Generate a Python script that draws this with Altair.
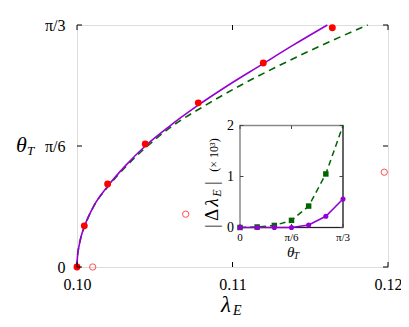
import altair as alt
import pandas as pd

# ---------------- data (theta_T in degrees, lambda_E) ----------------
curve_theta = [0, 1, 2, 3, 5, 7.5, 10, 15, 20, 25, 30, 35, 40, 45, 50, 55, 60]
purple_lam = [0.10000, 0.10001, 0.10002, 0.10004, 0.10012, 0.10026, 0.10047, 0.10106,
              0.10197, 0.10309, 0.10439, 0.10598, 0.10775, 0.10970, 0.11180, 0.11390, 0.11610]
green_lam = [0.10000, 0.10001, 0.10002, 0.10004, 0.10012, 0.10026, 0.10048, 0.10107,
             0.10201, 0.10317, 0.10453, 0.10615, 0.10822, 0.11050, 0.11303, 0.11575, 0.11870]

red_theta = [0, 10.2, 20.6, 30.5, 40.7, 50.6, 59.3]
red_lam = [0.1000, 0.10047, 0.10197, 0.10439, 0.1078, 0.11198, 0.11642]

open_theta = [0, 13.1, 23.5]
open_lam = [0.10101, 0.10699, 0.11976]

# inset: |Δλ_E| (×10^3) vs theta_T
inset_theta = [0, 10, 20, 30, 40, 50, 60]
inset_purple = [0, 0, 0, 0, 0.05, 0.22, 0.56]
inset_green = [0, 0.01, 0.04, 0.14, 0.42, 1.05, 2.08]

x_ticks = [0.10, 0.11, 0.12]
y_ticks = [0, 30, 60]
y_tick_labels = ["0", "π/6", "π/3"]
inset_x_ticks = [0, 30, 60]
inset_x_labels = ["0", "π/6", "π/3"]
inset_y_ticks = [0, 1, 2]
inset_y_labels = ["0", "1", "2"]

W, H = 311, 242
SERIF = "Liberation Serif"
PURPLE = "#9400d3"
GREEN = "#006400"

curves = pd.DataFrame({"theta": curve_theta, "purple": purple_lam, "green": green_lam})
red = pd.DataFrame({"theta": red_theta, "lam": red_lam})
opn = pd.DataFrame({"theta": open_theta, "lam": open_lam})
ins = pd.DataFrame({"theta": inset_theta, "p": inset_purple, "g": inset_green})

xs = alt.Scale(domain=[0.10, 0.12], nice=False)
ys = alt.Scale(domain=[0, 60], nice=False)
x_axis = alt.Axis(values=x_ticks, format=".2f", labelFont=SERIF, labelFontSize=16,
                  labelColor="black", ticks=False, tickSize=0, domain=False, grid=False,
                  labelPadding=9, labelFlush=False, labelOverlap=False, title=None)
label_expr = " : ".join(
    [f"datum.value == {v} ? '{l}'" for v, l in zip(y_ticks[:-1], y_tick_labels[:-1])]
) + f" : '{y_tick_labels[-1]}'"
y_axis = alt.Axis(values=y_ticks, labelExpr=label_expr, labelFont=SERIF, labelFontSize=16,
                  labelColor="black", ticks=False, tickSize=0, domain=False, grid=False,
                  labelPadding=12, labelFlush=False, labelOverlap=False, title=None)


def X(field):
    return alt.X(field, type="quantitative", scale=xs, axis=x_axis)


def Y(field):
    return alt.Y(field, type="quantitative", scale=ys, axis=y_axis)


green_main = alt.Chart(curves).mark_line(
    color=GREEN, strokeWidth=1.6, strokeDash=[7, 5], interpolate="monotone"
).encode(x=X("green"), y=Y("theta"), order="theta:Q")

purple_main = alt.Chart(curves).mark_line(
    color=PURPLE, strokeWidth=1.6, interpolate="monotone"
).encode(x=X("purple"), y=Y("theta"), order="theta:Q")

red_pts = alt.Chart(red).mark_circle(color="red", size=48, opacity=1).encode(
    x=X("lam"), y=Y("theta"))

open_pts = alt.Chart(opn).mark_point(
    shape="circle", filled=False, color="#ff5050", strokeWidth=1, size=40, opacity=1
).encode(x=X("lam"), y=Y("theta"))

xt = pd.DataFrame({"v": x_ticks})
yt = pd.DataFrame({"v": y_ticks})
xtick_b = alt.Chart(xt).mark_rule(color="black").encode(
    x=X("v"), y=alt.value(H), y2=alt.value(H - 5))
xtick_t = alt.Chart(xt).mark_rule(color="black").encode(
    x=X("v"), y=alt.value(0), y2=alt.value(5))
ytick_l = alt.Chart(yt).mark_rule(color="black").encode(
    y=Y("v"), x=alt.value(0), x2=alt.value(5))
ytick_r = alt.Chart(yt).mark_rule(color="black").encode(
    y=Y("v"), x=alt.value(W), x2=alt.value(W - 5))

one = pd.DataFrame({"a": [0]})


def txt(s, x, y, size, italic=False, angle=0, align="left", baseline="alphabetic"):
    kw = dict(text=s, font=SERIF, fontSize=size, color="black", align=align,
              baseline=baseline)
    if italic:
        kw["fontStyle"] = "italic"
    if angle:
        kw["angle"] = angle
    return alt.Chart(one).mark_text(**kw).encode(x=alt.value(x), y=alt.value(y))


titles = [
    txt("θ", -61, 127, 22, italic=True),
    txt("T", -50, 130, 13, italic=True),
    txt("λ", 144, 287, 23, italic=True),
    txt("E", 156, 290, 14, italic=True),
    # inset titles
    txt("θ", 210, 231.5, 15, italic=True),
    txt("T", 216.5, 234, 10, italic=True),
    txt("|", 141, 201, 19, angle=270, align="center"),
    txt("Δ", 141, 190, 19, angle=270, align="center"),
    txt("λ", 141, 177.5, 19, italic=True, angle=270, align="center"),
    txt("E", 144, 168, 12, italic=True, angle=270, align="center"),
    txt("|", 141, 158, 19, angle=270, align="center"),
    txt("(× 10³)", 140.5, 130, 12, angle=270, align="center"),
]

main = alt.layer(green_main, purple_main, red_pts, open_pts,
                 xtick_b, xtick_t, ytick_l, ytick_r, *titles)

# ---------------- inset ----------------
ixs = alt.Scale(domain=[0, 60], range=[163, 266], nice=False)
iys = alt.Scale(domain=[0, 2], range=[202.5, 100.5], nice=False, clamp=True)


def IX(field):
    return alt.X(field, type="quantitative", scale=ixs, axis=None)


def IY(field):
    return alt.Y(field, type="quantitative", scale=iys, axis=None)


box = pd.DataFrame({"x0": [inset_theta[0]], "x1": [inset_theta[-1]],
                    "y0": [inset_y_ticks[0]], "y1": [inset_y_ticks[-1]]})
bg = alt.Chart(box).mark_rect(fill="white", stroke="#8a8a8a", strokeWidth=1.5).encode(
    x=IX("x0"), x2="x1", y=IY("y0"), y2="y1")
b_bottom = alt.Chart(box).mark_rule(color="#222222", strokeWidth=1).encode(
    x=IX("x0"), x2="x1", y=IY("y0"))
b_right = alt.Chart(box).mark_rule(color="#222222", strokeWidth=1).encode(
    x=IX("x1"), y=IY("y0"), y2="y1")

ixt = pd.DataFrame({"v": inset_x_ticks, "l": inset_x_labels})
iyt = pd.DataFrame({"v": inset_y_ticks, "l": inset_y_labels})
itick_b = alt.Chart(ixt).mark_rule(color="#444444").encode(
    x=IX("v"), y=alt.value(202.5), y2=alt.value(199))
itick_t = alt.Chart(ixt).mark_rule(color="#444444").encode(
    x=IX("v"), y=alt.value(100.5), y2=alt.value(104))
itick_l = alt.Chart(iyt).mark_rule(color="#444444").encode(
    y=IY("v"), x=alt.value(163), x2=alt.value(166.5))
itick_r = alt.Chart(iyt).mark_rule(color="#444444").encode(
    y=IY("v"), x=alt.value(266), x2=alt.value(262.5))
ixlab = alt.Chart(ixt).mark_text(font=SERIF, fontSize=11, color="black",
                                 baseline="middle", align="center").encode(
    x=IX("v"), y=alt.value(213), text="l:N")
iylab = alt.Chart(iyt).mark_text(font=SERIF, fontSize=14, color="black",
                                 baseline="middle", align="right").encode(
    y=IY("v"), x=alt.value(157), text="l:N")

ig_line = alt.Chart(ins).mark_line(color=GREEN, strokeWidth=1.5, strokeDash=[6, 4]).encode(
    x=IX("theta"), y=IY("g"))
ig_pts = alt.Chart(ins).transform_filter(alt.datum.g <= 2).mark_square(
    color=GREEN, size=30, opacity=1).encode(x=IX("theta"), y=IY("g"))
ip_line = alt.Chart(ins).mark_line(color=PURPLE, strokeWidth=1.5).encode(
    x=IX("theta"), y=IY("p"))
ip_pts = alt.Chart(ins).mark_circle(color=PURPLE, size=26, opacity=1).encode(
    x=IX("theta"), y=IY("p"))

inset = alt.layer(bg, b_bottom, b_right, itick_b, itick_t, itick_l, itick_r,
                  ig_line, ig_pts, ip_line, ip_pts, ixlab, iylab)

chart = alt.layer(main, inset).resolve_scale(
    x="independent", y="independent"
).properties(
    width=W, height=H,
    autosize=alt.AutoSizeParams(type="none"),
    padding={"left": 69, "top": 17, "right": 13, "bottom": 52},
).configure_view(stroke="black", strokeWidth=1.2).configure(background="white")

chart.save("out.html", embed_options={"renderer": "svg", "actions": False})
